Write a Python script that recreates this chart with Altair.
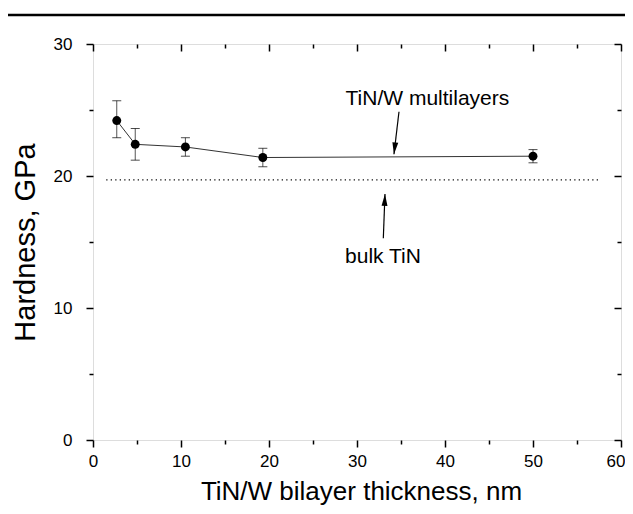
import altair as alt
import pandas as pd

# ---- data ----
thickness = [2.7, 4.8, 10.5, 19.3, 50.0]
hardness = [24.2, 22.4, 22.2, 21.4, 21.5]
err_low = [22.9, 21.2, 21.5, 20.7, 21.0]
err_high = [25.7, 23.6, 22.9, 22.1, 22.0]

bulk_x = [1.5]
bulk_x2 = [57.6]
bulk_h = [19.7]

labels = ["TiN/W multilayers", "bulk TiN"]
label_x = [38.0, 32.95]
label_y = [25.35, 13.4]

arrow_tail_x = [34.77, 32.99]
arrow_tail_y = [24.87, 15.28]
arrow_tip_x = [34.2, 33.18]
arrow_tip_y = [21.65, 18.64]
arrow_angle = [186.6, 2.2]

x_major = [0, 10, 20, 30, 40, 50, 60]
x_minor = [5, 15, 25, 35, 45, 55]
y_major = [0, 10, 20, 30]
y_minor = [5, 15, 25]

FONT = "Liberation Sans"

df = pd.DataFrame({"t": thickness, "h": hardness, "lo": err_low, "hi": err_high})
bulk = pd.DataFrame({"x": bulk_x, "x2": bulk_x2, "y": bulk_h})
ann = pd.DataFrame({"label": labels, "x": label_x, "y": label_y})
arr = pd.DataFrame({"x": arrow_tail_x, "y": arrow_tail_y, "x2": arrow_tip_x,
                    "y2": arrow_tip_y, "a": arrow_angle})

xs = alt.Scale(domain=[0, 60], nice=False)
ys = alt.Scale(domain=[0, 30], nice=False)

def xenc(field, axis=None):
    return alt.X(field, type="quantitative", scale=xs, axis=axis)

def yenc(field, axis=None):
    return alt.Y(field, type="quantitative", scale=ys, axis=axis)

base = alt.Chart(df)

last_label = "datum.value == 60"

# axis layers
ax_main = base.mark_point(opacity=0).encode(
    x=xenc("t", alt.Axis(values=x_major, orient="bottom", tickSize=7, tickWidth=1.5,
                         tickColor="black", domain=False, grid=False,
                         labelFont=FONT, labelFontSize=17, labelColor="black",
                         labelPadding=6, labelFlush=False,
                         labelAlign={"condition": {"test": last_label, "value": "right"},
                                     "value": "center"},
                         labelOffset={"condition": {"test": last_label, "value": 4},
                                      "value": 0},
                         title="TiN/W bilayer thickness, nm", titleFont=FONT,
                         titleFontSize=26, titleFontWeight="normal", titleColor="black",
                         titleX=268, titleY=59, titleBaseline="alphabetic",
                         titleAnchor="middle")),
    y=yenc("h", alt.Axis(values=y_major, orient="left", tickSize=7, tickWidth=1.5,
                         tickColor="black", domain=False, grid=False,
                         labelFont=FONT, labelFontSize=17, labelColor="black",
                         labelPadding=14, labelFlush=False,
                         title="Hardness, GPa", titleFont=FONT, titleFontSize=29,
                         titleFontWeight="normal", titleColor="black",
                         titleX=-68, titleY=198, titleAngle=-90,
                         titleBaseline="middle", titleAlign="center")),
)

ax_minor = base.mark_point(opacity=0).encode(
    x=xenc("t", alt.Axis(values=x_minor, orient="bottom", tickSize=4, tickWidth=1.5,
                         tickColor="black", domain=False, grid=False, labels=False,
                         title=None)),
    y=yenc("h", alt.Axis(values=y_minor, orient="left", tickSize=4, tickWidth=1.5,
                         tickColor="black", domain=False, grid=False, labels=False,
                         title=None)),
)

ax_mirror_major = base.mark_point(opacity=0).encode(
    x=xenc("t", alt.Axis(values=x_major, orient="top", tickSize=7, tickWidth=1.5,
                         offset=-7, tickColor="black", domain=False, grid=False,
                         labels=False, title=None)),
    y=yenc("h", alt.Axis(values=y_major, orient="right", tickSize=7, tickWidth=1.5,
                         offset=-7, tickColor="black", domain=False, grid=False,
                         labels=False, title=None)),
)

ax_mirror_minor = base.mark_point(opacity=0).encode(
    x=xenc("t", alt.Axis(values=x_minor, orient="top", tickSize=4, tickWidth=1.5,
                         offset=-4, tickColor="black", domain=False, grid=False,
                         labels=False, title=None)),
    y=yenc("h", alt.Axis(values=y_minor, orient="right", tickSize=4, tickWidth=1.5,
                         offset=-4, tickColor="black", domain=False, grid=False,
                         labels=False, title=None)),
)

# data layers
bulk_line = alt.Chart(bulk).mark_rule(color="#111", strokeWidth=1.3,
                                      strokeDash=[1.3, 3.2]).encode(
    x=xenc("x"), x2="x2", y=yenc("y"))

line = base.mark_line(color="#333", strokeWidth=1).encode(x=xenc("t"), y=yenc("h"))

err = base.mark_rule(color="#555", strokeWidth=1).encode(x=xenc("t"), y=yenc("lo"), y2="hi")
cap_lo = base.mark_tick(orient="horizontal", color="black", size=9, thickness=1).encode(
    x=xenc("t"), y=yenc("lo"))
cap_hi = base.mark_tick(orient="horizontal", color="black", size=9, thickness=1).encode(
    x=xenc("t"), y=yenc("hi"))

pts = base.mark_point(filled=True, color="black", size=80, opacity=1).encode(
    x=xenc("t"), y=yenc("h"))

arrow_shaft = alt.Chart(arr).mark_rule(color="black", strokeWidth=1.2).encode(
    x=xenc("x"), y=yenc("y"), x2="x2", y2="y2")
arrow_head = alt.Chart(arr).mark_point(
    shape="M0,0L0.5,2L-0.5,2Z", filled=True, color="black", size=140, opacity=1
).encode(x=xenc("x2"), y=yenc("y2"), angle=alt.Angle("a:Q", scale=None))

text = alt.Chart(ann).mark_text(font=FONT, fontSize=21, color="black",
                                align="center", baseline="alphabetic").encode(
    x=xenc("x"), y=yenc("y"), text="label:N")

top_rule = alt.Chart(bulk).mark_rule(color="black", strokeWidth=2.5).encode(
    x=alt.value(-90), x2=alt.value(540), y=alt.value(-29))

chart = alt.layer(
    ax_main, ax_minor, ax_mirror_major, ax_mirror_minor,
    bulk_line, line, err, cap_lo, cap_hi, pts, arrow_shaft, arrow_head, text, top_rule
).resolve_axis(x="independent", y="independent").properties(
    width=528, height=396,
    autosize=alt.AutoSizeParams(type="none"),
    padding={"left": 85, "top": 36, "right": 4, "bottom": 66},
).configure_view(stroke="black", strokeWidth=1.5).configure(background="white")

chart.save("out.html", embed_options={"renderer": "svg", "actions": False})
